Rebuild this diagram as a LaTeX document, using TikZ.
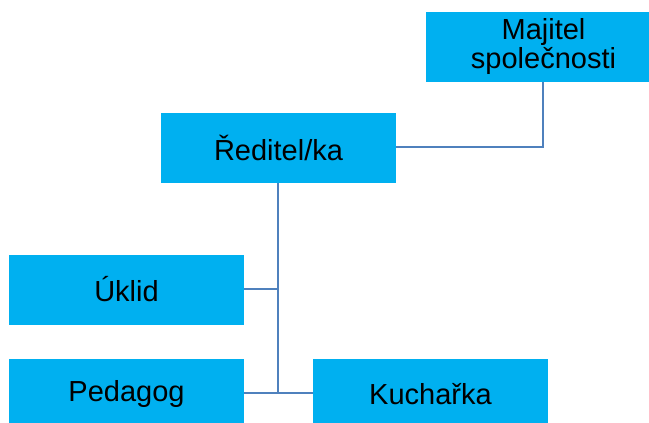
\documentclass[tikz,border=0pt]{standalone}
\usepackage{fontspec}
\setmainfont{Liberation Sans}
\definecolor{boxfill}{HTML}{00B0F0}
\definecolor{linecol}{HTML}{4F81BD}
\begin{document}
\begin{tikzpicture}[x=1pt,y=-1pt,
  box/.style={fill=boxfill,draw=none,minimum width=235pt,minimum height=70pt,inner sep=0pt,
    align=center,font=\fontsize{29}{29}\selectfont,text=black},
  conn/.style={draw=linecol,line width=2pt}]
\useasboundingbox (0,0) rectangle (649,423);
\clip (0,0) rectangle (649,423);
\node[box] (maj) at (543.5,46.5) {Majitel\\společnosti};
\node[box] (red) at (278.5,148) {Ředitel/ka};
\node[box] (ukl) at (126.5,289.5) {Úklid};
\node[box] (ped) at (126.5,394) {Pedagog};
\node[box] (kuc) at (430.5,394) {Kuchařka};
\coordinate (jr) at (543,147);
\coordinate (ju) at (278,289);
\coordinate (jp) at (278,393);
\draw[conn] (maj.south -| jr) -- (jr) -- (red.east |- jr);
\draw[conn] (red.south -| ju) -- (jp);
\draw[conn] (ukl.east |- ju) -- (ju);
\draw[conn] (ped.east |- jp) -- (kuc.west |- jp);
\end{tikzpicture}
\end{document}
